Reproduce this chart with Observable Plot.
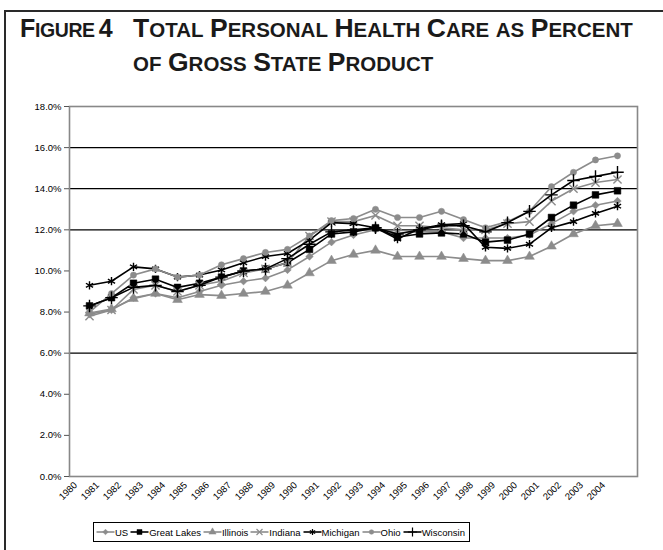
<!DOCTYPE html>
<html><head><meta charset="utf-8">
<script src="https://cdn.jsdelivr.net/npm/d3@7"></script>
<script src="https://cdn.jsdelivr.net/npm/@observablehq/plot@0.6"></script>
<style>
body{margin:0;background:#fff;font-family:"Liberation Sans",Arial,sans-serif;}
#wrap{position:relative;width:663px;height:550px;overflow:hidden;background:#fff;}
#border{position:absolute;left:4px;top:10px;width:720px;height:600px;border-left:2.5px solid #2a2a2a;border-top:2.5px solid #2a2a2a;z-index:5;pointer-events:none;}
#title{position:absolute;left:20px;top:13px;font-weight:bold;line-height:31px;color:#1a1a1a;font-family:"Liberation Sans",Arial,sans-serif;}
#title .fig{position:absolute;left:0;top:0;white-space:nowrap;letter-spacing:-0.4px;}
#title .txt{position:absolute;left:113px;top:0;white-space:nowrap;word-spacing:2px;}
#title .B{font-size:26.5px;}
#title .s{font-size:20.5px;}
#title .fig .B{font-size:25px;}
#title .fig .s{font-size:19.5px;}
#chart{position:absolute;left:0;top:90px;}
#legend{position:absolute;left:93px;top:522px;height:18px;border:1px solid #000;display:flex;align-items:center;padding:0 2px;font-size:9.5px;color:#000;white-space:nowrap;z-index:6;background:#fff;}
#legend .it{display:flex;align-items:center;margin-right:2px;}
#legend svg{display:block;margin-right:0;}
</style></head>
<body><div id="wrap">
<div id="border"></div>
<div id="title"><div class="fig" id="t1"></div><div class="txt" id="t2"></div></div>
<div id="chart"></div>
<div id="legend"></div>
</div>
<script>
const years = ["1980","1981","1982","1983","1984","1985","1986","1987","1988","1989","1990","1991","1992","1993","1994","1995","1996","1997","1998","1999","2000","2001","2002","2003","2004"];
const us =         [7.9, 8.1, 8.7, 8.9, 8.7, 9.0, 9.3, 9.5, 9.65,10.05,10.7,11.4,11.75,12.0,11.85,11.9,11.9,11.6,11.6,11.6,11.75,12.3,12.9,13.2,13.4];
const greatLakes = [8.3, 8.7, 9.4, 9.6, 9.2, 9.4, 9.7, 10.0,10.1,10.4,11.05,11.8,11.9,12.1,11.65,11.8,11.85,11.8,11.4,11.5,11.8,12.6,13.2,13.7,13.9];
const illinois =   [7.95,8.15,8.65,8.9, 8.6, 8.85,8.8, 8.9, 9.0, 9.3, 9.9,10.5,10.8,11.0,10.7,10.7,10.7,10.6,10.5,10.5,10.7,11.2,11.8,12.2,12.3];
const indiana =    [7.8, 8.1, 9.1, 9.3, 9.0, 9.3, 9.5, 9.9, 10.1,10.4,11.7,12.4,12.4,12.7,12.2,12.2,12.1,12.0,12.0,12.3,12.4,13.4,14.0,14.3,14.45];
const michigan =   [9.3, 9.5,10.2,10.1, 9.7, 9.8,10.05,10.4,10.7,10.85,11.5,12.35,12.3,12.1,11.55,12.05,12.25,12.3,11.15,11.1,11.3,12.1,12.4,12.8,13.15];
const ohio =       [8.0, 8.9, 9.8,10.1, 9.7, 9.8,10.3,10.6,10.9,11.05,11.7,12.45,12.55,13.0,12.6,12.6,12.9,12.5,12.1,12.4,12.9,14.1,14.8,15.4,15.6];
const wisconsin =  [8.3, 8.7, 9.2, 9.3, 9.0, 9.3, 9.7,10.0,10.1,10.6,11.3,11.9,12.0,12.1,11.8,12.0,12.2,12.2,11.9,12.35,12.9,13.7,14.4,14.6,14.8];
const seriesNames = ["US","Great Lakes","Illinois","Indiana","Michigan","Ohio","Wisconsin"];
const seriesValues = [us, greatLakes, illinois, indiana, michigan, ohio, wisconsin];
const yTicks = [0,2,4,6,8,10,12,14,16,18];
const gridValues = [6,12,14,16];
const titleFigure = "Figure 4";
const titleLines = ["Total Personal Health Care as Percent", "of Gross State Product"];

function smallCaps(str) {
  return str.replace(/[A-Za-z0-9]+|\s+/g, w => {
    if (/^\s+$/.test(w)) return w;
    let out = "";
    for (const ch of w) {
      if (ch >= "a" && ch <= "z") out += `<span class="s">${ch.toUpperCase()}</span>`;
      else out += `<span class="B">${ch}</span>`;
    }
    return out;
  });
}
document.getElementById("t1").innerHTML = smallCaps(titleFigure);
document.getElementById("t2").innerHTML = titleLines.map(smallCaps).join("<br>");

const GRAY = "#8c8c8c", BLACK = "#000";
const styles = {
  "US":          {color: GRAY,  symbol: "diamond2", filled: true,  r: 3.4},
  "Great Lakes": {color: BLACK, symbol: "square",   filled: true,  r: 3.8},
  "Illinois":    {color: GRAY,  symbol: "triangle", filled: true,  r: 3.6},
  "Indiana":     {color: GRAY,  symbol: "times",    filled: false, r: 3.8},
  "Michigan":    {color: BLACK, symbol: "asterisk", filled: false, r: 3.9},
  "Ohio":        {color: GRAY,  symbol: "circle",   filled: true,  r: 3.1},
  "Wisconsin":   {color: BLACK, symbol: "plus",     filled: false, r: 4.1}
};

const rows = [];
seriesNames.forEach((name, i) => years.forEach((yr, j) => rows.push({series: name, year: yr, value: seriesValues[i][j]})));

const marks = [
  Plot.ruleY(gridValues, {stroke: "#000", strokeWidth: 1.2}),
  Plot.frame({stroke: "#888", strokeWidth: 1.6}),
  Plot.axisY({ticks: yTicks, tickFormat: d => d.toFixed(1) + "%", tickSize: 5, tickPadding: 3, fontSize: 9.5, label: null, stroke: "#555"}),
  Plot.axisX({tickRotate: -45, tickSize: 0, tickPadding: 4, fontSize: 9.5, label: null, dx: -14, dy: 3})
];
seriesNames.forEach(name => {
  const s = styles[name];
  const data = rows.filter(d => d.series === name);
  marks.push(Plot.line(data, {x: "year", y: "value", stroke: s.color, strokeWidth: 1.6}));
  marks.push(Plot.dot(data, {x: "year", y: "value", symbol: s.symbol, r: s.r,
    fill: s.filled ? s.color : "none", stroke: s.color, strokeWidth: s.filled ? 0.5 : 1.4}));
});

const chart = Plot.plot({
  width: 663, height: 425,
  marginTop: 16, marginBottom: 39, marginLeft: 69, marginRight: 26,
  style: {fontFamily: "'Liberation Sans', Arial, sans-serif", fontSize: "9.5px", color: "#000", background: "transparent"},
  x: {type: "point", domain: years, padding: 0.5},
  y: {domain: [0, 18]},
  marks
});
document.getElementById("chart").appendChild(chart);

const leg = document.getElementById("legend");
const symMap = {diamond2: d3.symbolDiamond2, square: d3.symbolSquare, triangle: d3.symbolTriangle, times: d3.symbolTimes, asterisk: d3.symbolAsterisk, circle: d3.symbolCircle, plus: d3.symbolPlus};
seriesNames.forEach(name => {
  const s = styles[name];
  const it = document.createElement("div"); it.className = "it";
  const svg = d3.create("svg").attr("width", 19).attr("height", 10);
  svg.append("line").attr("x1", 0.5).attr("x2", 18.5).attr("y1", 5).attr("y2", 5).attr("stroke", s.color).attr("stroke-width", 1.6);
  svg.append("path").attr("transform", "translate(9.5,5)").attr("d", d3.symbol(symMap[s.symbol], s.r * s.r * Math.PI * 0.55)())
    .attr("fill", s.filled ? s.color : "none").attr("stroke", s.color).attr("stroke-width", s.filled ? 0.5 : 1.2);
  it.appendChild(svg.node());
  const t = document.createElement("span"); t.textContent = name; it.appendChild(t);
  leg.appendChild(it);
});
</script>
</body></html>
